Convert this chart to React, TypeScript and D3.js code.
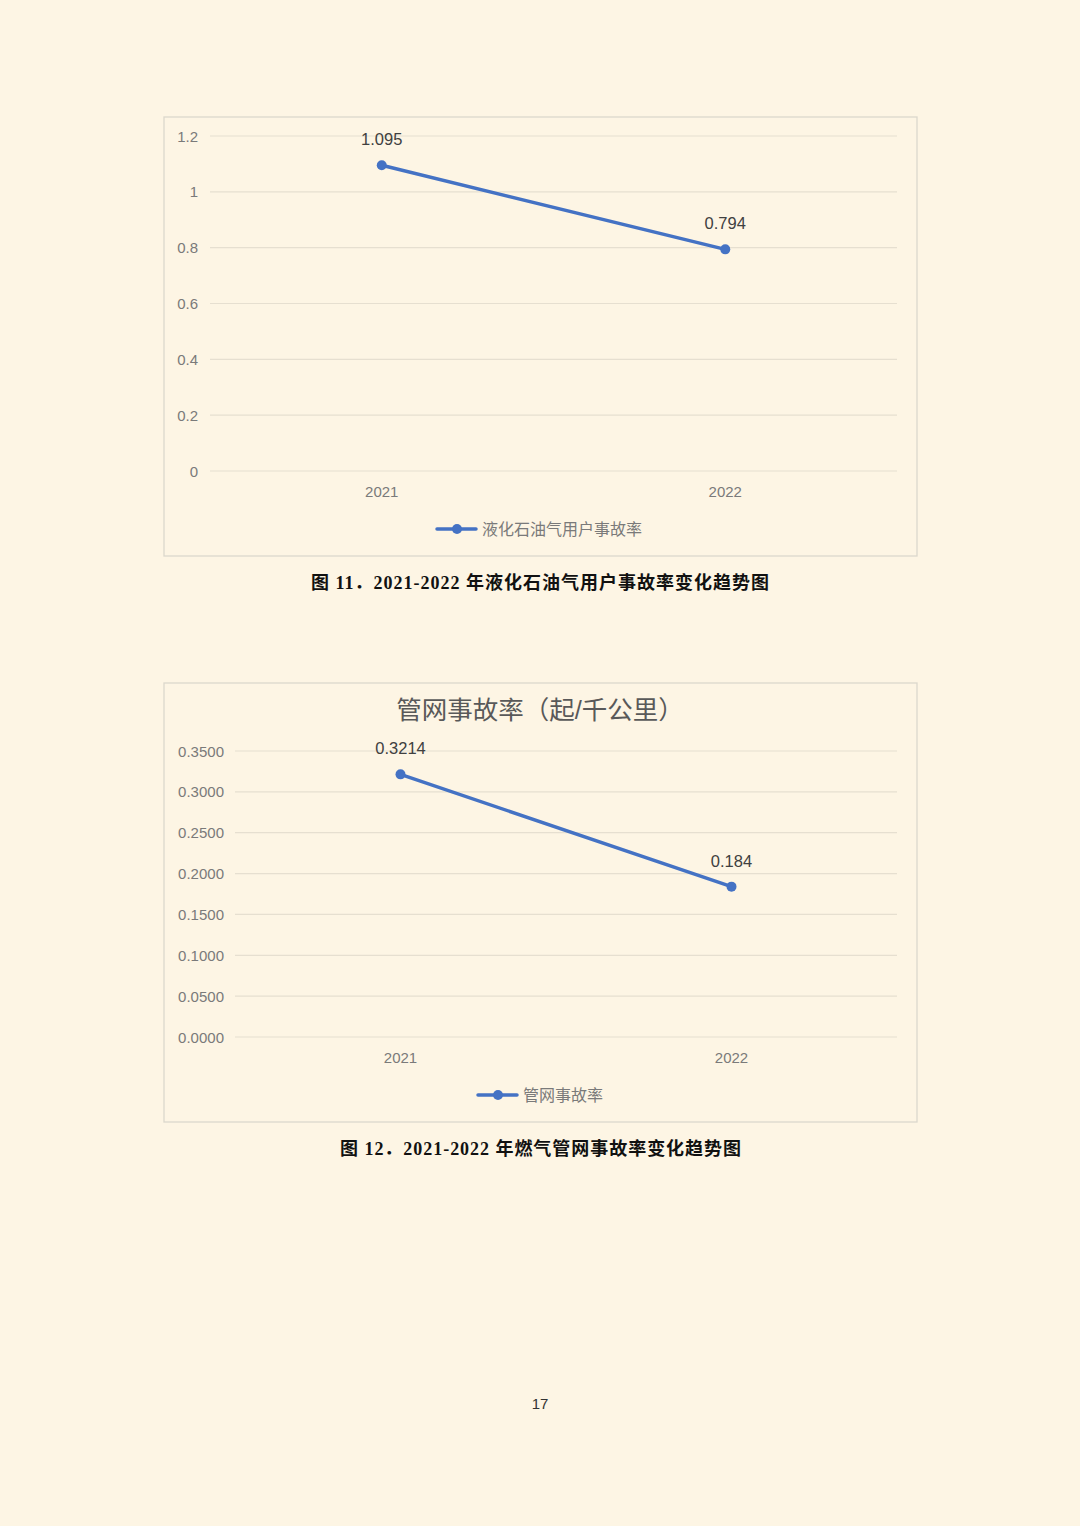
import React from "react";
import * as d3 from "d3";

const years = ["2021", "2022"];
const lpgRate = [1.095, 0.794];
const lpgLabels = ["1.095", "0.794"];
const lpgTicks = [0, 0.2, 0.4, 0.6, 0.8, 1, 1.2];
const lpgTickLabels = ["0", "0.2", "0.4", "0.6", "0.8", "1", "1.2"];
const lpgLegend = "液化石油气用户事故率";
const lpgCaption = "图 11．2021-2022 年液化石油气用户事故率变化趋势图";

const pipeRate = [0.3214, 0.184];
const pipeLabels = ["0.3214", "0.184"];
const pipeTicks = [0, 0.05, 0.1, 0.15, 0.2, 0.25, 0.3, 0.35];
const pipeTickLabels = pipeTicks.map((t) => t.toFixed(4));
const pipeTitle = "管网事故率（起/千公里）";
const pipeLegend = "管网事故率";
const pipeCaption = "图 12．2021-2022 年燃气管网事故率变化趋势图";

const pageNumber = "17";

const BG = "#FDF5E4";
const GRID = "#E6DFD0";
const BORDER = "#DCD8CC";
const LINE = "#4472C4";
const AXIS_TEXT = "#7A7A7A";
const LABEL_TEXT = "#404040";
const FONT = "'Liberation Sans', 'Noto Sans CJK SC', sans-serif";
const CAPTION_FONT = "'Liberation Serif', 'Noto Sans CJK SC', serif";

type ChartProps = {
  box: { x: number; y: number; w: number; h: number };
  plot: { left: number; right: number; top: number; bottom: number };
  values: number[];
  labels: string[];
  ticks: number[];
  tickLabels: string[];
  yMax: number;
  legend: string;
  legendY: number;
  legendX: number;
  xLabelY: number;
  tickX: number;
  title?: string;
  titleY?: number;
  titleX?: number;
};

function LineChart(p: ChartProps) {
  const x = d3.scalePoint<string>().domain(years).range([p.plot.left, p.plot.right]).padding(0.5);
  const y = d3.scaleLinear().domain([0, p.yMax]).range([p.plot.bottom, p.plot.top]);
  const pts = years.map((yr, i) => [x(yr) as number, y(p.values[i])] as [number, number]);
  const path = d3.line()(pts) || "";
  return (
    <g>
      <rect x={p.box.x} y={p.box.y} width={p.box.w} height={p.box.h} fill={BG} stroke={BORDER} strokeWidth={1.3} />
      {p.title && (
        <text x={p.titleX} y={p.titleY} textAnchor="middle" dominantBaseline="central" fontSize={25.5} fill="#595959" fontFamily={FONT}>
          {p.title}
        </text>
      )}
      {p.ticks.map((t, i) => (
        <g key={i}>
          <line x1={p.plot.left} x2={p.plot.right} y1={y(t)} y2={y(t)} stroke={GRID} strokeWidth={1.2} />
          <text x={p.tickX} y={y(t)} textAnchor="end" dominantBaseline="central" fontSize={15} fill={AXIS_TEXT} fontFamily={FONT}>
            {p.tickLabels[i]}
          </text>
        </g>
      ))}
      {years.map((yr) => (
        <text key={yr} x={x(yr)} y={p.xLabelY} textAnchor="middle" dominantBaseline="central" fontSize={15} fill={AXIS_TEXT} fontFamily={FONT}>
          {yr}
        </text>
      ))}
      <path d={path} fill="none" stroke={LINE} strokeWidth={3.5} strokeLinecap="round" />
      {pts.map((pt, i) => (
        <g key={i}>
          <circle cx={pt[0]} cy={pt[1]} r={5} fill={LINE} />
          <text x={pt[0]} y={pt[1] - 26} textAnchor="middle" dominantBaseline="central" fontSize={16.5} fill={LABEL_TEXT} fontFamily={FONT}>
            {p.labels[i]}
          </text>
        </g>
      ))}
      <line x1={p.legendX} x2={p.legendX + 39} y1={p.legendY} y2={p.legendY} stroke={LINE} strokeWidth={3.5} strokeLinecap="round" />
      <circle cx={p.legendX + 20} cy={p.legendY} r={5} fill={LINE} />
      <text x={p.legendX + 45} y={p.legendY} dominantBaseline="central" fontSize={16} fill={AXIS_TEXT} fontFamily={FONT}>
        {p.legend}
      </text>
    </g>
  );
}

export default function App() {
  return (
    <div style={{ position: "absolute", left: 0, top: 0, width: 1080, height: 1526, background: BG }}>
      <svg width={1080} height={1526} style={{ display: "block" }}>
        <rect x={0} y={0} width={1080} height={1526} fill={BG} />
        <LineChart
          box={{ x: 164, y: 117, w: 753, h: 439 }}
          plot={{ left: 210, right: 897, top: 136, bottom: 471 }}
          values={lpgRate}
          labels={lpgLabels}
          ticks={lpgTicks}
          tickLabels={lpgTickLabels}
          yMax={1.2}
          legend={lpgLegend}
          legendX={437}
          legendY={529}
          xLabelY={491}
          tickX={198}
        />
        <text x={311} y={583} dominantBaseline="central" fontSize={18} fontWeight="bold" fill="#111" fontFamily={CAPTION_FONT} textLength={458} lengthAdjust="spacing">
          {lpgCaption}
        </text>
        <LineChart
          box={{ x: 164, y: 683, w: 753, h: 439 }}
          plot={{ left: 235, right: 897, top: 751, bottom: 1037 }}
          values={pipeRate}
          labels={pipeLabels}
          ticks={pipeTicks}
          tickLabels={pipeTickLabels}
          yMax={0.35}
          legend={pipeLegend}
          legendX={478}
          legendY={1095}
          xLabelY={1057}
          tickX={224}
          title={pipeTitle}
          titleX={540}
          titleY={710}
        />
        <text x={340} y={1149} dominantBaseline="central" fontSize={18} fontWeight="bold" fill="#111" fontFamily={CAPTION_FONT} textLength={401} lengthAdjust="spacing">
          {pipeCaption}
        </text>
        <text x={540} y={1403} textAnchor="middle" dominantBaseline="central" fontSize={15} fill="#333" fontFamily={FONT}>
          {pageNumber}
        </text>
      </svg>
    </div>
  );
}
